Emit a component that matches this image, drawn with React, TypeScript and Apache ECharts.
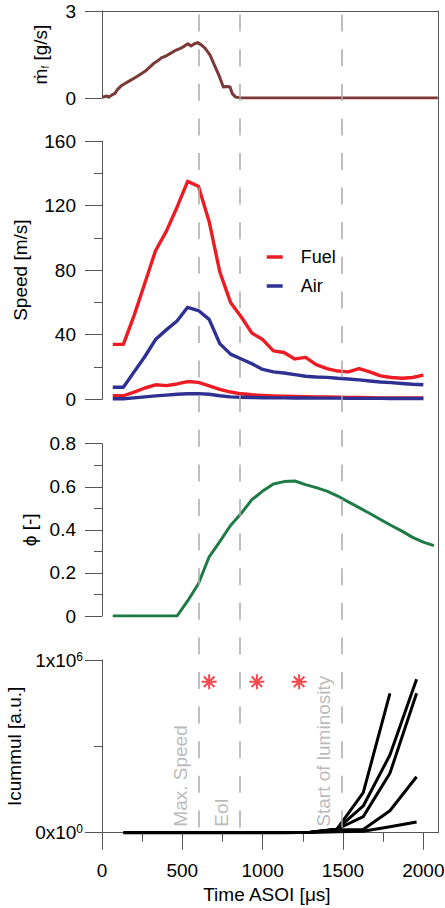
import React, { useEffect, useRef } from 'react';
import * as echarts from 'echarts';

// ---------- data ----------
const mdotTime = [2, 29, 43, 60, 81, 97, 118, 143, 174, 205, 237, 268, 299, 326, 351, 371, 396, 423, 454, 485, 513, 534, 554, 575, 595, 616, 641, 672, 699, 728, 755, 776, 797, 811, 832, 870, 2090];
const mdotValue = [0.02, 0.07, 0.03, 0.1, 0.16, 0.3, 0.41, 0.5, 0.6, 0.7, 0.81, 0.92, 1.07, 1.21, 1.3, 1.39, 1.44, 1.53, 1.63, 1.7, 1.79, 1.87, 1.79, 1.87, 1.91, 1.84, 1.72, 1.49, 1.14, 0.78, 0.38, 0.4, 0.38, 0.15, 0.03, 0, 0];

const speedTime = [67, 133, 200, 267, 333, 400, 467, 533, 600, 667, 733, 800, 867, 933, 1000, 1067, 1133, 1200, 1267, 1333, 1400, 1467, 1533, 1600, 1667, 1733, 1800, 1867, 1933, 2000];
const fuelMax = [34, 34, 52, 72, 92, 104, 119, 135, 132, 110, 79, 60, 51, 41, 37, 30, 29, 25, 26, 21.5, 19, 17.5, 17, 19, 17, 14.5, 13.5, 13, 13.5, 15];
const fuelMin = [2.2, 2.2, 4.5, 7, 9, 8.5, 9.5, 11, 10.5, 8.3, 6.2, 4.5, 3.4, 2.8, 2.4, 2.1, 1.9, 1.8, 1.6, 1.5, 1.4, 1.3, 1.2, 1.1, 1.0, 0.9, 0.9, 0.8, 0.8, 0.8];
const airMax = [7.5, 7.5, 17, 26.5, 37, 43, 48.5, 57, 55, 49.5, 34.5, 28, 25, 22, 18.5, 17, 16.3, 15.3, 14.3, 13.8, 13.6, 13, 12.6, 12, 11.3, 10.7, 10.3, 9.8, 9.3, 9];
const airMin = [0.3, 0.3, 0.9, 1.5, 2.1, 2.6, 3.1, 3.4, 3.5, 3.1, 2.2, 1.5, 1.3, 1.1, 1.0, 0.9, 0.9, 0.8, 0.8, 0.7, 0.7, 0.7, 0.6, 0.6, 0.6, 0.6, 0.5, 0.5, 0.5, 0.5];

const phiTime = [67, 133, 200, 267, 333, 400, 467, 533, 600, 667, 733, 800, 867, 933, 1000, 1067, 1133, 1200, 1267, 1333, 1400, 1467, 1533, 1600, 1667, 1733, 1800, 1867, 1933, 2000, 2066];
const phiValue = [0, 0, 0, 0, 0, 0, 0, 0.07, 0.15, 0.275, 0.345, 0.42, 0.477, 0.54, 0.58, 0.613, 0.624, 0.627, 0.61, 0.596, 0.58, 0.557, 0.53, 0.503, 0.476, 0.448, 0.42, 0.394, 0.365, 0.343, 0.327];

const icumTime = [135, 300, 465, 630, 795, 960, 1130, 1298, 1462, 1626, 1792, 1958];
const icumA = [0, 0, 0, 0, 0, 0, 0, 3000, 20000, 232000, 807000];
const icumB = [0, 0, 0, 0, 0, 0, 0, 3000, 20000, 155000, 450000, 888000];
const icumC = [0, 0, 0, 0, 0, 0, 0, 3000, 20000, 93000, 344000, 807000];
const icumD = [0, 0, 0, 0, 0, 0, 0, 2000, 15000, 18000, 127000, 324000];
const icumE = [0, 0, 0, 0, 0, 0, 0, 1000, 5000, 8000, 35000, 62000];

const eventTime = [600, 855, 1490];
const eventLabel = ['Max. Speed', 'EoI', 'Start of luminosity'];
const starTime = [667, 964, 1227];
const starValue = [874000, 874000, 874000];

const xTicks = [0, 500, 1000, 1500, 2000];
const xMinorTicks = [250, 750, 1250, 1750];

// ---------- styles ----------
const FONT = "'Liberation Sans', Arial, Helvetica, sans-serif";
const RED = '#ED1C24';
const BLUE = '#2E3192';
const GREEN = '#1E7B45';
const BROWN = '#7B3A38';
const AXIS = '#555555';
const DASH = '#AAAAAA';

const X_MAX = 2090;
const GL = 102;
const GR = 7.2;

const pairs = (xs: number[], ys: number[]) => ys.map((v, i) => [xs[i], v]);

const axisLineStyle = { color: AXIS, width: 1 };

const gridOf = (top: number, height: number) => ({
  left: GL,
  right: GR,
  top,
  height,
  containLabel: false,
  outerBoundsMode: 'none',
});

const yBase = (gridIndex: number, min: number, max: number, interval: number, minor: boolean) => ({
  type: 'value',
  gridIndex,
  min,
  max,
  interval,
  axisLine: { show: true, onZero: false, lineStyle: axisLineStyle },
  axisTick: { show: true, length: 17, lineStyle: axisLineStyle },
  minorTick: { show: minor, splitNumber: 2, length: 8, lineStyle: axisLineStyle },
  axisLabel: { margin: 26, fontSize: 19, color: '#000', fontFamily: FONT },
  splitLine: { show: false },
  minorSplitLine: { show: false },
  nameLocation: 'middle',
  nameRotate: 90,
  nameTextStyle: { fontSize: 19, color: '#000', fontFamily: FONT },
});

const hiddenX = (gridIndex: number) => ({
  type: 'value',
  gridIndex,
  min: 0,
  max: X_MAX,
  show: false,
  axisLine: { onZero: false },
  splitLine: { show: false },
});

const lineSeries = (name: string, x: number, y: number, data: number[][], color: string, width: number) => ({
  type: 'line',
  name,
  xAxisIndex: x,
  yAxisIndex: y,
  data,
  showSymbol: false,
  symbol: 'none',
  z: 3,
  itemStyle: { color },
  lineStyle: { color, width, join: 'round' },
});

const option = {
  animation: false,
  textStyle: { fontFamily: FONT },
  grid: [
    gridOf(11, 87),
    gridOf(141, 258.3),
    gridOf(443.7, 172.3),
    gridOf(660, 172.7),
    gridOf(11, 821.7),
  ],
  legend: {
    data: ['Fuel', 'Air'],
    orient: 'vertical',
    left: 261.7,
    top: 243,
    icon: 'rect',
    itemWidth: 16,
    itemHeight: 3.5,
    itemGap: 11,
    selectedMode: false,
    textStyle: { fontSize: 18, color: '#000', fontFamily: FONT, padding: [0, 0, 0, 13] },
  },
  xAxis: [
    {
      type: 'value',
      gridIndex: 0,
      min: 0,
      max: X_MAX,
      position: 'top',
      axisLine: { show: true, onZero: false, lineStyle: axisLineStyle },
      axisTick: { show: false },
      axisLabel: { show: false },
      splitLine: { show: false },
    },
    hiddenX(1),
    hiddenX(2),
    {
      type: 'value',
      gridIndex: 3,
      min: 0,
      max: X_MAX,
      interval: 500,
      position: 'bottom',
      axisLine: { show: true, onZero: false, lineStyle: axisLineStyle },
      axisTick: { show: true, length: 17, customValues: xTicks, lineStyle: axisLineStyle },
      axisLabel: {
        customValues: xTicks,
        margin: 28,
        fontSize: 19,
        color: '#000',
        fontFamily: FONT,
        formatter: (v: number) => String(v),
      },
      splitLine: { show: false },
      name: 'Time ASOI [μs]',
      nameLocation: 'middle',
      nameGap: 52,
      nameTextStyle: { fontSize: 19, color: '#000', fontFamily: FONT, padding: [0, 6, 0, 0] },
    },
    {
      type: 'value',
      gridIndex: 3,
      min: 0,
      max: X_MAX,
      interval: 500,
      position: 'bottom',
      axisLine: { show: false, onZero: false },
      axisTick: { show: true, length: 9, customValues: xMinorTicks, lineStyle: axisLineStyle },
      axisLabel: { show: false },
      splitLine: { show: false },
    },
    hiddenX(4),
  ],
  yAxis: [
    {
      ...yBase(0, 0, 3, 3, false),
      name: '{m|ṁ}{f|f}{m| [g/s]}',
      nameGap: 52,
      nameTextStyle: {
        fontSize: 19,
        color: '#000',
        fontFamily: FONT,
        rich: {
          m: { fontSize: 19, color: '#000', fontFamily: FONT },
          f: { fontSize: 10, color: '#000', fontFamily: FONT, verticalAlign: 'bottom', lineHeight: 12 },
        },
      },
    },
    { ...yBase(1, 0, 160, 40, true), name: 'Speed [m/s]', nameGap: 72 },
    { ...yBase(2, 0, 0.8, 0.2, true), name: 'ϕ [-]', nameGap: 63 },
    {
      ...yBase(3, 0, 1000000, 1000000, true),
      name: 'Icummul [a.u.]',
      nameGap: 54,
      axisLabel: {
        margin: 19,
        color: '#000',
        fontFamily: FONT,
        formatter: (v: number) => (v === 0 ? '{m|0x10}{s|0}' : '{m|1x10}{s|6}'),
        rich: {
          m: { fontSize: 19, color: '#000', fontFamily: FONT },
          s: { fontSize: 12, color: '#000', fontFamily: FONT, verticalAlign: 'top', lineHeight: 14 },
        },
      },
    },
    {
      type: 'value',
      gridIndex: 4,
      min: 0,
      max: 1,
      position: 'right',
      axisLine: { show: true, onZero: false, lineStyle: axisLineStyle },
      axisTick: { show: false },
      axisLabel: { show: false },
      splitLine: { show: false },
    },
  ],
  series: [
    {
      type: 'line',
      name: 'events',
      xAxisIndex: 5,
      yAxisIndex: 4,
      data: [],
      z: 1,
      silent: true,
      markLine: {
        silent: true,
        symbol: ['none', 'none'],
        label: { show: false },
        lineStyle: { color: DASH, width: 1.5, type: [17, 17.6], dashOffset: 30.6 },
        data: eventTime.map((t) => [{ coord: [t, 1] }, { coord: [t, 0] }]),
      },
    },
    lineSeries('mdot', 0, 0, pairs(mdotTime, mdotValue), BROWN, 3),
    lineSeries('Fuel', 1, 1, pairs(speedTime, fuelMax), RED, 3.4),
    lineSeries('Fuel', 1, 1, pairs(speedTime, fuelMin), RED, 3.4),
    lineSeries('Air', 1, 1, pairs(speedTime, airMax), BLUE, 3.4),
    lineSeries('Air', 1, 1, pairs(speedTime, airMin), BLUE, 3.4),
    lineSeries('phi', 2, 2, pairs(phiTime, phiValue), GREEN, 3),
    lineSeries('I1', 3, 3, pairs(icumTime, icumA), '#000', 3),
    lineSeries('I2', 3, 3, pairs(icumTime, icumB), '#000', 3),
    lineSeries('I3', 3, 3, pairs(icumTime, icumC), '#000', 3),
    lineSeries('I4', 3, 3, pairs(icumTime, icumD), '#000', 3),
    lineSeries('I5', 3, 3, pairs(icumTime, icumE), '#000', 3),
    {
      type: 'scatter',
      name: 'stars',
      xAxisIndex: 3,
      yAxisIndex: 3,
      z: 4,
      data: pairs(starTime, starValue),
      symbol: 'path://M0,-10L0,10M-10,0L10,0M-7.07,-7.07L7.07,7.07M-7.07,7.07L7.07,-7.07',
      symbolSize: 15,
      itemStyle: { color: 'rgba(0,0,0,0)', borderColor: RED, borderWidth: 2 },
    },
    {
      type: 'scatter',
      name: 'labels',
      xAxisIndex: 3,
      yAxisIndex: 3,
      z: 2,
      silent: true,
      symbolSize: 0,
      data: eventTime.map((t, i) => ({ value: [t, 0], name: eventLabel[i] })),
      label: {
        show: true,
        formatter: '{b}',
        rotate: 90,
        position: [-8, -6],
        align: 'left',
        verticalAlign: 'bottom',
        color: '#A8A8A8',
        fontSize: 19,
        fontFamily: FONT,
      },
    },
  ],
};

export default function App() {
  const ref = useRef<HTMLDivElement>(null);
  useEffect(() => {
    document.body.style.margin = '0';
    const chart = echarts.init(ref.current as HTMLDivElement, null, { renderer: 'svg' });
    chart.setOption(option as any);
    return () => chart.dispose();
  }, []);
  return <div ref={ref} style={{ width: 445, height: 908 }} />;
}
